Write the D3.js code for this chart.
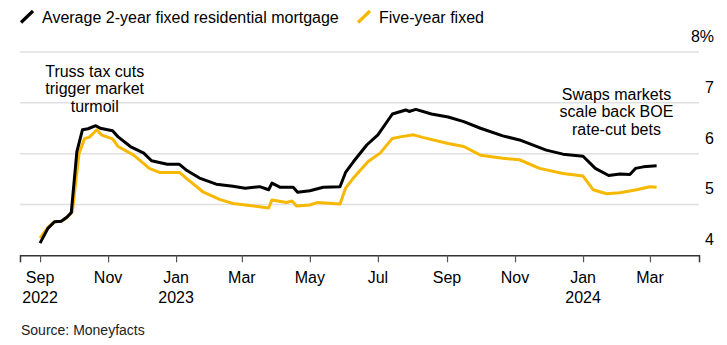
<!DOCTYPE html>
<html>
<head>
<meta charset="utf-8">
<script src="https://cdn.jsdelivr.net/npm/d3@7"></script>
<style>
  body { margin: 0; background: #fff; }
  svg { display: block; font-family: "Liberation Sans", Arial, Helvetica, sans-serif; }
  .grid line { stroke: #e0e0e0; stroke-width: 1.5; }
  .lbl { font-size: 16px; fill: #000; }
</style>
</head>
<body>
<svg id="chart" width="727" height="345"></svg>
<script>
const dates2y = [
  "2022-09-01", "2022-09-08", "2022-09-14", "2022-09-20", "2022-09-25", "2022-09-29",
  "2022-10-04", "2022-10-09", "2022-10-14", "2022-10-21", "2022-10-25", "2022-11-05",
  "2022-11-10", "2022-11-21", "2022-12-03", "2022-12-10", "2022-12-24", "2023-01-04",
  "2023-01-10", "2023-01-22", "2023-02-06", "2023-02-21", "2023-03-04", "2023-03-17",
  "2023-03-25", "2023-03-28", "2023-04-04", "2023-04-16", "2023-04-20", "2023-05-01",
  "2023-05-13", "2023-05-28", "2023-06-02", "2023-06-09", "2023-06-21", "2023-07-01",
  "2023-07-14", "2023-07-26", "2023-07-29", "2023-08-04", "2023-08-18", "2023-09-02",
  "2023-09-16", "2023-10-01", "2023-10-21", "2023-11-05", "2023-11-29", "2023-12-14",
  "2024-01-01", "2024-01-12", "2024-01-24", "2024-02-03", "2024-02-12", "2024-02-17",
  "2024-02-24", "2024-03-07",
];
const rate2y = [
  4.24, 4.53, 4.66, 4.67, 4.75, 4.84,
  6.04, 6.47, 6.49, 6.55, 6.5, 6.45,
  6.33, 6.14, 6.01, 5.86, 5.79, 5.79,
  5.68, 5.52, 5.4, 5.36, 5.32, 5.35,
  5.29, 5.42, 5.34, 5.34, 5.24, 5.27,
  5.34, 5.35, 5.63, 5.84, 6.17, 6.37,
  6.78, 6.86, 6.83, 6.87, 6.78, 6.72,
  6.63, 6.5, 6.35, 6.27, 6.07, 5.99,
  5.95, 5.71, 5.57, 5.6, 5.59, 5.71,
  5.74, 5.76,
];

const dates5y = [
  "2022-09-01", "2022-09-08", "2022-09-14", "2022-09-20", "2022-09-25", "2022-09-30",
  "2022-10-06", "2022-10-11", "2022-10-15", "2022-10-22", "2022-10-26", "2022-11-05",
  "2022-11-10", "2022-11-24", "2022-12-08", "2022-12-17", "2023-01-04", "2023-01-10",
  "2023-01-25", "2023-02-09", "2023-02-21", "2023-03-08", "2023-03-25", "2023-03-28",
  "2023-04-10", "2023-04-15", "2023-04-19", "2023-05-01", "2023-05-08", "2023-05-28",
  "2023-06-02", "2023-06-09", "2023-06-22", "2023-07-03", "2023-07-14", "2023-07-21",
  "2023-08-02", "2023-08-10", "2023-09-02", "2023-09-16", "2023-10-01", "2023-10-21",
  "2023-11-05", "2023-11-23", "2023-12-14", "2024-01-01", "2024-01-10", "2024-01-22",
  "2024-02-03", "2024-02-18", "2024-03-01", "2024-03-07",
];
const rate5y = [
  4.34, 4.55, 4.66, 4.67, 4.74, 4.86,
  6.01, 6.3, 6.32, 6.47, 6.37, 6.29,
  6.14, 5.97, 5.71, 5.63, 5.63, 5.52,
  5.25, 5.1, 5.02, 4.98, 4.93, 5.09,
  5.04, 5.07, 4.97, 4.99, 5.04, 5.01,
  5.32, 5.52, 5.84, 6.01, 6.3, 6.33,
  6.37, 6.32, 6.2, 6.14, 5.97, 5.91,
  5.88, 5.71, 5.61, 5.56, 5.29, 5.21,
  5.23, 5.29, 5.35, 5.34,
];

const yTicks = [4, 5, 6, 7, 8];
const xTickDates = [
  "2022-09-01", "2022-11-01", "2023-01-01", "2023-03-01", "2023-05-01",
  "2023-07-01", "2023-09-01", "2023-11-01", "2024-01-01", "2024-03-01",
];
const xTickMonths = ["Sep", "Nov", "Jan", "Mar", "May", "Jul", "Sep", "Nov", "Jan", "Mar"];
const xTickYears = ["2022", "", "2023", "", "", "", "", "", "2024", ""];

const legendItems = [
  { label: "Average 2-year fixed residential mortgage", color: "#000000" },
  { label: "Five-year fixed", color: "#f7b801" },
];

const notes = [
  { lines: ["Truss tax cuts", "trigger market", "turmoil"], date: "2022-10-20", top: 76.5 },
  { lines: ["Swaps markets", "scale back BOE", "rate-cut bets"], date: "2024-01-31", top: 99.5 },
];

const parse = d3.timeParse("%Y-%m-%d");

const svg = d3.select("#chart");

const x = d3.scaleTime()
  .domain([parse("2022-08-14"), parse("2024-04-14")])
  .range([20, 699]);

const y = d3.scaleLinear()
  .domain([4, 8])
  .range([255.3, 52]);

// gridlines
svg.append("g")
  .attr("class", "grid")
  .selectAll("line")
  .data(yTicks.filter((d) => d > 4))
  .enter()
  .append("line")
  .attr("x1", 20)
  .attr("x2", 699)
  .attr("y1", (d) => y(d))
  .attr("y2", (d) => y(d));

// y labels, sitting above their gridline
svg.append("g")
  .selectAll("text")
  .data(yTicks)
  .enter()
  .append("text")
  .attr("class", "lbl")
  .attr("x", 714)
  .attr("y", (d) => y(d) - 10)
  .attr("text-anchor", "end")
  .text((d) => (d === 8 ? "8%" : d));

// x axis
const xAxis = d3.axisBottom(x)
  .tickValues(xTickDates.map(parse))
  .tickSize(7)
  .tickFormat("");

const axisG = svg.append("g")
  .attr("transform", `translate(0,${y(4)})`)
  .call(xAxis);

axisG.select(".domain").attr("stroke", "#333").attr("stroke-width", 1.5);
axisG.selectAll(".tick line").attr("stroke", "#555").attr("stroke-width", 1.2);

const tickLbl = svg.append("g")
  .selectAll("text")
  .data(xTickDates)
  .enter()
  .append("text")
  .attr("class", "lbl")
  .attr("text-anchor", "middle")
  .attr("x", (d) => x(parse(d)));

tickLbl.append("tspan")
  .attr("y", 283)
  .text((_d, i) => xTickMonths[i]);

tickLbl.append("tspan")
  .attr("x", (d) => x(parse(d)))
  .attr("y", 303)
  .text((_d, i) => xTickYears[i]);

// lines
const line = d3.line()
  .x((d) => x(d[0]))
  .y((d) => y(d[1]));

const series = [
  { dates: dates5y, vals: rate5y, color: legendItems[1].color },
  { dates: dates2y, vals: rate2y, color: legendItems[0].color },
];

series.forEach((s) => {
  const pts = s.dates.map((d, i) => [parse(d), s.vals[i]]);
  svg.append("path")
    .datum(pts)
    .attr("fill", "none")
    .attr("stroke", s.color)
    .attr("stroke-width", 3)
    .attr("stroke-linejoin", "round")
    .attr("d", line);
});

// legend
const legendX = [21, 358];
legendItems.forEach((item, i) => {
  const lx = legendX[i];
  svg.append("line")
    .attr("x1", lx)
    .attr("y1", 22.5)
    .attr("x2", lx + 12)
    .attr("y2", 11)
    .attr("stroke", item.color)
    .attr("stroke-width", 3.2);
  svg.append("text")
    .attr("class", "lbl")
    .attr("x", lx + 21)
    .attr("y", 23)
    .text(item.label);
});

// annotations
notes.forEach((n) => {
  const t = svg.append("text")
    .attr("class", "lbl")
    .attr("text-anchor", "middle");
  n.lines.forEach((ln, i) => {
    t.append("tspan")
      .attr("x", x(parse(n.date)))
      .attr("y", n.top + i * 17.5)
      .text(ln);
  });
});

svg.append("text")
  .attr("x", 21)
  .attr("y", 335)
  .attr("font-size", 14)
  .attr("fill", "#222")
  .text("Source: Moneyfacts");
</script>
</body>
</html>
